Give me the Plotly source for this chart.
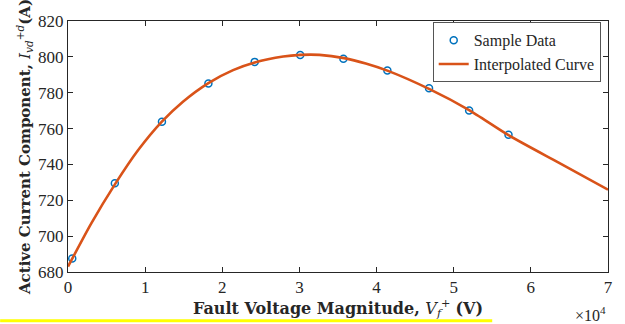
import plotly.graph_objects as go

# Sample data (V, A)
sample_v = [550, 6070, 12180, 18200, 24200, 30100, 35700, 41400, 46800, 52000, 57100]
sample_i = [687.5, 729.5, 763.8, 785.2, 797.2, 801.0, 799.0, 792.4, 782.5, 770.1, 756.5]

# Interpolated curve
curve_v = [0, 3000, 6100, 9100, 12200, 14900, 18200, 21400, 24200, 27900,
           30100, 32600, 35800, 38600, 41400, 46800, 52000, 57100, 63600, 70000]
curve_i = [683.0, 707.0, 729.0, 748.0, 764.0, 775.0, 785.4, 792.6, 796.9, 800.2,
           801.1, 801.1, 799.3, 796.3, 792.3, 782.1, 770.3, 756.3, 741.0, 725.9]

x_tickvals = [0, 10000, 20000, 30000, 40000, 50000, 60000, 70000]
x_ticktext = ["0", "1", "2", "3", "4", "5", "6", "7"]
y_tickvals = [680, 700, 720, 740, 760, 780, 800, 820]

FONT = "Liberation Serif"
TFONT = "DejaVu Serif"
INK = "#262626"

fig = go.Figure()
fig.add_trace(go.Scatter(
    x=sample_v, y=sample_i, mode="markers", name="Sample Data",
    marker=dict(symbol="circle-open", size=7, color="#0072BD", line=dict(width=1.5, color="#0072BD")),
))
fig.add_trace(go.Scatter(
    x=curve_v, y=curve_i, mode="lines", name="Interpolated Curve",
    line=dict(color="#D95319", width=2.6, shape="spline", smoothing=0.6),
))

axis_common = dict(
    showline=True, linecolor=INK, linewidth=1, mirror="ticks",
    ticks="inside", ticklen=5, tickcolor=INK, tickwidth=1,
    showgrid=False, zeroline=False,
    tickfont=dict(family=FONT, size=17, color=INK),
)

fig.update_layout(
    width=625, height=324,
    margin=dict(l=68, r=16, t=15, b=51),
    paper_bgcolor="white", plot_bgcolor="white",
    font=dict(family=FONT, color=INK),
    showlegend=True,
    legend=dict(
        x=0.9865, xanchor="right", y=0.995, yanchor="top",
        bordercolor="#555555", borderwidth=1, bgcolor="white",
        font=dict(family=FONT, size=16, color=INK),
        tracegroupgap=0, itemwidth=30,
    ),
    xaxis=dict(
        range=[0, 70000], tickvals=x_tickvals, ticktext=x_ticktext,
        title=dict(
            text="<b>Fault Voltage Magnitude, </b><i>V</i><sub><i>f</i></sub><sup>+</sup> <b>(V)</b>",
            font=dict(family=TFONT, size=16, color=INK), standoff=3,
        ),
        **axis_common,
    ),
    yaxis=dict(
        range=[680, 820], tickvals=y_tickvals,
        title=dict(
            text="<b>Active Current Component, </b><i>I</i><sub><i>vd</i></sub><sup>+<i>d</i></sup><b>(A)</b>",
            font=dict(family=TFONT, size=15, color=INK), standoff=3,
        ),
        **axis_common,
    ),
    annotations=[
        dict(text="×10<sup>4</sup>", xref="paper", yref="paper", x=1.0, y=-0.12,
             xanchor="right", yanchor="top", showarrow=False,
             font=dict(family=FONT, size=16, color=INK)),
    ],
    shapes=[
        dict(type="line", xref="paper", yref="paper",
             x0=-0.1257, x1=0.7856, y0=-0.1938, y1=-0.1938,
             line=dict(color="#FFFF00", width=3)),
    ],
)

fig.write_html("out.html")
